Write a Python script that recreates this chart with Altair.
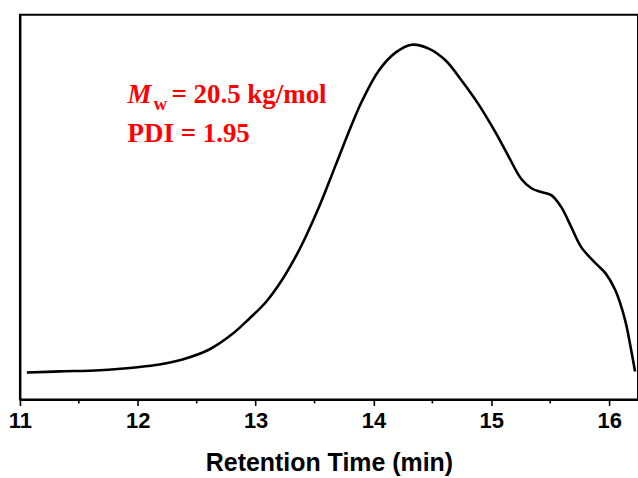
import altair as alt
import pandas as pd

# Retention time (min) and detector signal (arb. units, 0-1 scale)
time_min = [11.059, 11.338, 11.677, 11.998, 12.184, 12.379, 12.607, 12.802, 12.946,
            13.090, 13.225, 13.343, 13.428, 13.538, 13.682, 13.817, 13.902, 14.046,
            14.190, 14.325, 14.469, 14.613, 14.748, 14.892, 15.036, 15.146, 15.255,
            15.340, 15.425, 15.509, 15.594, 15.679, 15.763, 15.882, 15.967, 16.051,
            16.135, 16.186, 16.220]
signal = [0.070, 0.073, 0.076, 0.084, 0.091, 0.104, 0.130, 0.170, 0.210,
          0.254, 0.311, 0.373, 0.425, 0.500, 0.611, 0.715, 0.775, 0.855,
          0.902, 0.922, 0.912, 0.881, 0.829, 0.767, 0.694, 0.632, 0.573,
          0.549, 0.539, 0.531, 0.500, 0.448, 0.396, 0.355, 0.329, 0.285,
          0.207, 0.130, 0.073]

major_ticks = [11, 12, 13, 14, 15, 16]
minor_ticks = [11.5, 12.5, 13.5, 14.5, 15.5]

x_domain = [11, 16.245]
y_domain = [0, 1]

W, H = 620, 386
RED = "#FF0000"
SERIF = "Liberation Serif"
SANS = "Liberation Sans"

df = pd.DataFrame({"t": time_min, "s": signal})
xs = alt.Scale(domain=x_domain, nice=False, zero=False)
ys = alt.Scale(domain=y_domain, nice=False, zero=False)

line = alt.Chart(df).mark_line(color="black", strokeWidth=2.6, interpolate="catmull-rom").encode(
    x=alt.X("t:Q", scale=xs,
            axis=alt.Axis(title="Retention Time (min)", values=major_ticks, format="d",
                          labelFont=SANS, labelFontSize=22, labelFontWeight="bold",
                          labelColor="black", labelPadding=5,
                          titleFont=SANS, titleFontSize=25, titleFontWeight="bold",
                          titleColor="black", titlePadding=19,
                          tickSize=6, tickWidth=1.6, tickColor="black",
                          domainColor="black", domainWidth=2, grid=False,
                          labelFlush=False)),
    y=alt.Y("s:Q", scale=ys,
            axis=alt.Axis(title=None, labels=False, ticks=False, grid=False,
                          domainColor="black", domainWidth=2)),
)

minor = alt.Chart(pd.DataFrame({"m": minor_ticks})).mark_rule(color="black", strokeWidth=1.6).encode(
    x=alt.X("m:Q", scale=xs),
    y=alt.value(H),
    y2=alt.value(H + 4),
)

one = pd.DataFrame({"k": [0]})

def label(text, x, y, size, style="normal"):
    return alt.Chart(one).mark_text(
        text=text, font=SERIF, fontSize=size, fontWeight="bold", fontStyle=style,
        color=RED, align="left", baseline="alphabetic",
    ).encode(x=alt.value(x), y=alt.value(y))

t_M = label("M", 108, 89, 27, "italic")
t_w = label("w", 134, 96, 19)
t_rest = label("= 20.5 kg/mol", 152, 89, 27)
t_pdi = label("PDI = 1.95", 108, 128, 27)

chart = alt.layer(line, minor, t_M, t_w, t_rest, t_pdi).properties(
    width=W, height=H,
    autosize=alt.AutoSizeParams(type="none"),
    padding={"left": 20, "top": 14, "right": 0, "bottom": 78},
    background="white",
).configure_view(stroke="black", strokeWidth=2)

chart.save("out.html", embed_options={"renderer": "svg", "actions": False})
